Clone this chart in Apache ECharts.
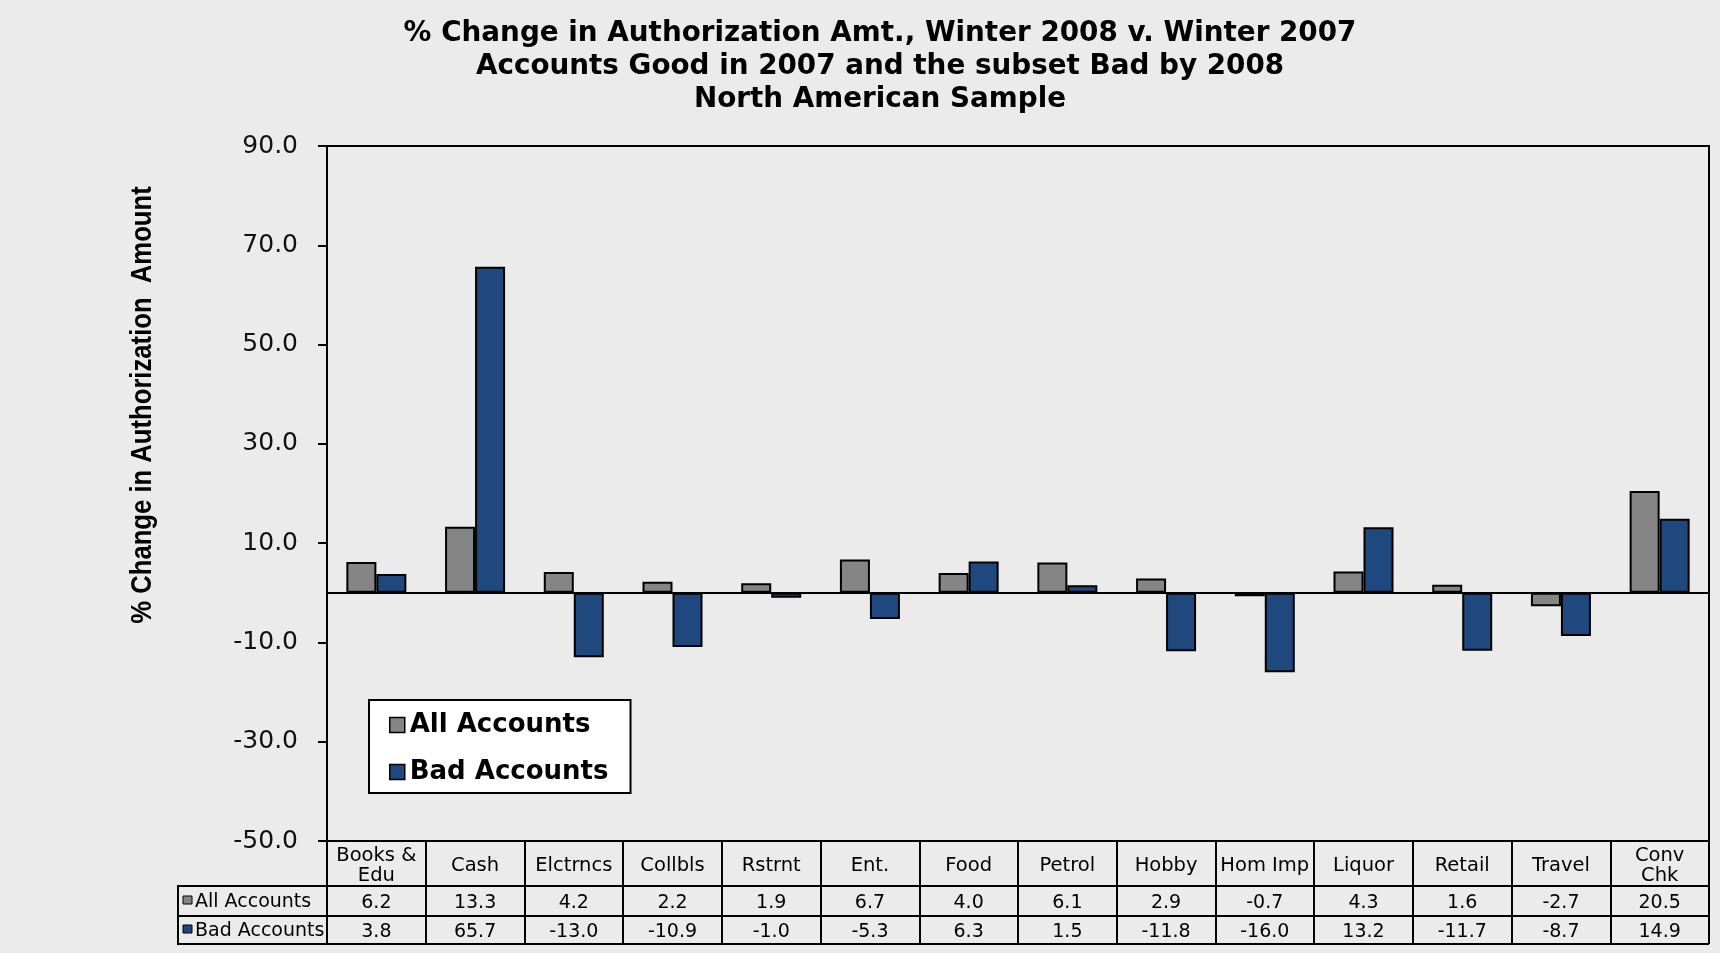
<!DOCTYPE html>
<html>
<head>
<meta charset="utf-8">
<script src="https://cdn.jsdelivr.net/npm/echarts@6/dist/echarts.min.js"></script>
<style>
html,body{margin:0;padding:0;background:#ECEBEB;}
#chart{width:1720px;height:953px;}
</style>
</head>
<body>
<div id="chart"></div>
<script>
const categories = ['Books &\nEdu','Cash','Elctrncs','Collbls','Rstrnt','Ent.','Food','Petrol','Hobby','Hom Imp','Liquor','Retail','Travel','Conv\nChk'];
const allAccounts = [6.2,13.3,4.2,2.2,1.9,6.7,4.0,6.1,2.9,-0.7,4.3,1.6,-2.7,20.5];
const badAccounts = [3.8,65.7,-13.0,-10.9,-1.0,-5.3,6.3,1.5,-11.8,-16.0,13.2,-11.7,-8.7,14.9];
const yTicks = [-50,-30,-10,10,30,50,70,90];
const seriesNames = ['All Accounts','Bad Accounts'];
const colors = ['#858585','#1F487F'];
const titleLines = ['% Change in Authorization Amt., Winter 2008 v. Winter 2007','Accounts Good in 2007 and the subset Bad by 2008','North American Sample'];
const yAxisName = '% Change in Authorization  Amount';

const chart = echarts.init(document.getElementById('chart'));
const FONT = 'DejaVu Sans';
const tableLine = {stroke:'#000', lineWidth:2};
const fmt = v => v.toFixed(1);

const option = {
  backgroundColor:'#ECEBEB',
  animation:false,
  title:{
    text: titleLines.join('\n'),
    left: 875, top: 12, textAlign:'center',
    textStyle:{fontFamily:FONT, fontWeight:'bold', fontSize:27.8, lineHeight:33, color:'#000'}
  },
  legend:{
    data: seriesNames,
    orient:'vertical', left:369, top:700,
    backgroundColor:'#fff', borderColor:'#000', borderWidth:2,
    padding:[10,22,6,20],
    itemWidth:15, itemHeight:15, itemGap:17,
    icon:'rect',
    itemStyle:{borderColor:'#000', borderWidth:1.5},
    textStyle:{fontFamily:FONT, fontWeight:'bold', fontSize:26, lineHeight:30, color:'#000'}
  },
  grid:{left:327, right:11, top:146, bottom:112, show:true, borderColor:'#000', borderWidth:2, backgroundColor:'transparent'},
  xAxis:[
    {type:'category', data:categories, position:'bottom',
     axisLine:{onZero:false, lineStyle:{color:'#000', width:2}},
     axisTick:{show:true, interval:0, length:103, lineStyle:{color:'#000', width:2}},
     axisLabel:{interval:0, fontFamily:FONT, fontSize:19.5, lineHeight:20, color:'#000', verticalAlign:'middle', margin:25}},
    {type:'category', data:allAccounts.map(fmt), position:'bottom', offset:45,
     axisLine:{show:false, onZero:false}, axisTick:{show:false},
     axisLabel:{interval:0, fontFamily:FONT, fontSize:19, color:'#000', verticalAlign:'middle', margin:17}},
    {type:'category', data:badAccounts.map(fmt), position:'bottom', offset:75,
     axisLine:{show:false, onZero:false}, axisTick:{show:false},
     axisLabel:{interval:0, fontFamily:FONT, fontSize:19, color:'#000', verticalAlign:'middle', margin:16}}
  ],
  yAxis:[
    {type:'value', min:yTicks[0], max:yTicks[yTicks.length-1], show:false, splitLine:{show:false}},
    {type:'value', min:0, max:yTicks[yTicks.length-1]-yTicks[0], interval:20, position:'left',
     axisLine:{show:true, lineStyle:{color:'#000', width:2}},
     axisTick:{show:true, length:9, lineStyle:{color:'#000', width:2}},
     splitLine:{show:false},
     axisLabel:{fontFamily:FONT, fontSize:25, color:'#111', margin:29,
       formatter: v => { const i = Math.round(v/20); return yTicks[i] !== undefined ? fmt(yTicks[i]) : ''; }}}
  ],
  series:[
    {name:seriesNames[0], type:'bar', xAxisIndex:0, yAxisIndex:0, data:allAccounts, barWidth:30, barGap:'0%',
     itemStyle:{color:colors[0], borderColor:'#000', borderWidth:2},
     markLine:{silent:true, symbol:'none', label:{show:false}, lineStyle:{color:'#000', width:2, type:'solid'}, data:[{yAxis:0}]}},
    {name:seriesNames[1], type:'bar', xAxisIndex:0, yAxisIndex:0, data:badAccounts, barWidth:30, barGap:'0%',
     itemStyle:{color:colors[1], borderColor:'#000', borderWidth:2}}
  ],
  graphic:[
    {type:'text', x:143, y:405, rotation:Math.PI/2, scaleX:0.855,
     style:{text:yAxisName, fontFamily:'Liberation Sans', fontWeight:'bold', fontSize:30, fill:'#000', align:'center', verticalAlign:'middle'}},
    {type:'line', shape:{x1:178, y1:886, x2:1709, y2:886}, style:tableLine},
    {type:'line', shape:{x1:178, y1:916, x2:1709, y2:916}, style:tableLine},
    {type:'line', shape:{x1:178, y1:944, x2:1709, y2:944}, style:tableLine},
    {type:'line', shape:{x1:178, y1:885, x2:178, y2:945}, style:tableLine},
    {type:'rect', shape:{x:183, y:896, width:9, height:8}, style:{fill:colors[0], stroke:'#000', lineWidth:1}},
    {type:'text', x:195, y:902, style:{text:seriesNames[0], fontFamily:FONT, fontSize:19, fill:'#000', verticalAlign:'middle'}},
    {type:'rect', shape:{x:183, y:925, width:9, height:8}, style:{fill:colors[1], stroke:'#000', lineWidth:1}},
    {type:'text', x:195, y:931, style:{text:seriesNames[1], fontFamily:FONT, fontSize:19, fill:'#000', verticalAlign:'middle'}}
  ]
};
chart.setOption(option);
</script>
</body>
</html>
